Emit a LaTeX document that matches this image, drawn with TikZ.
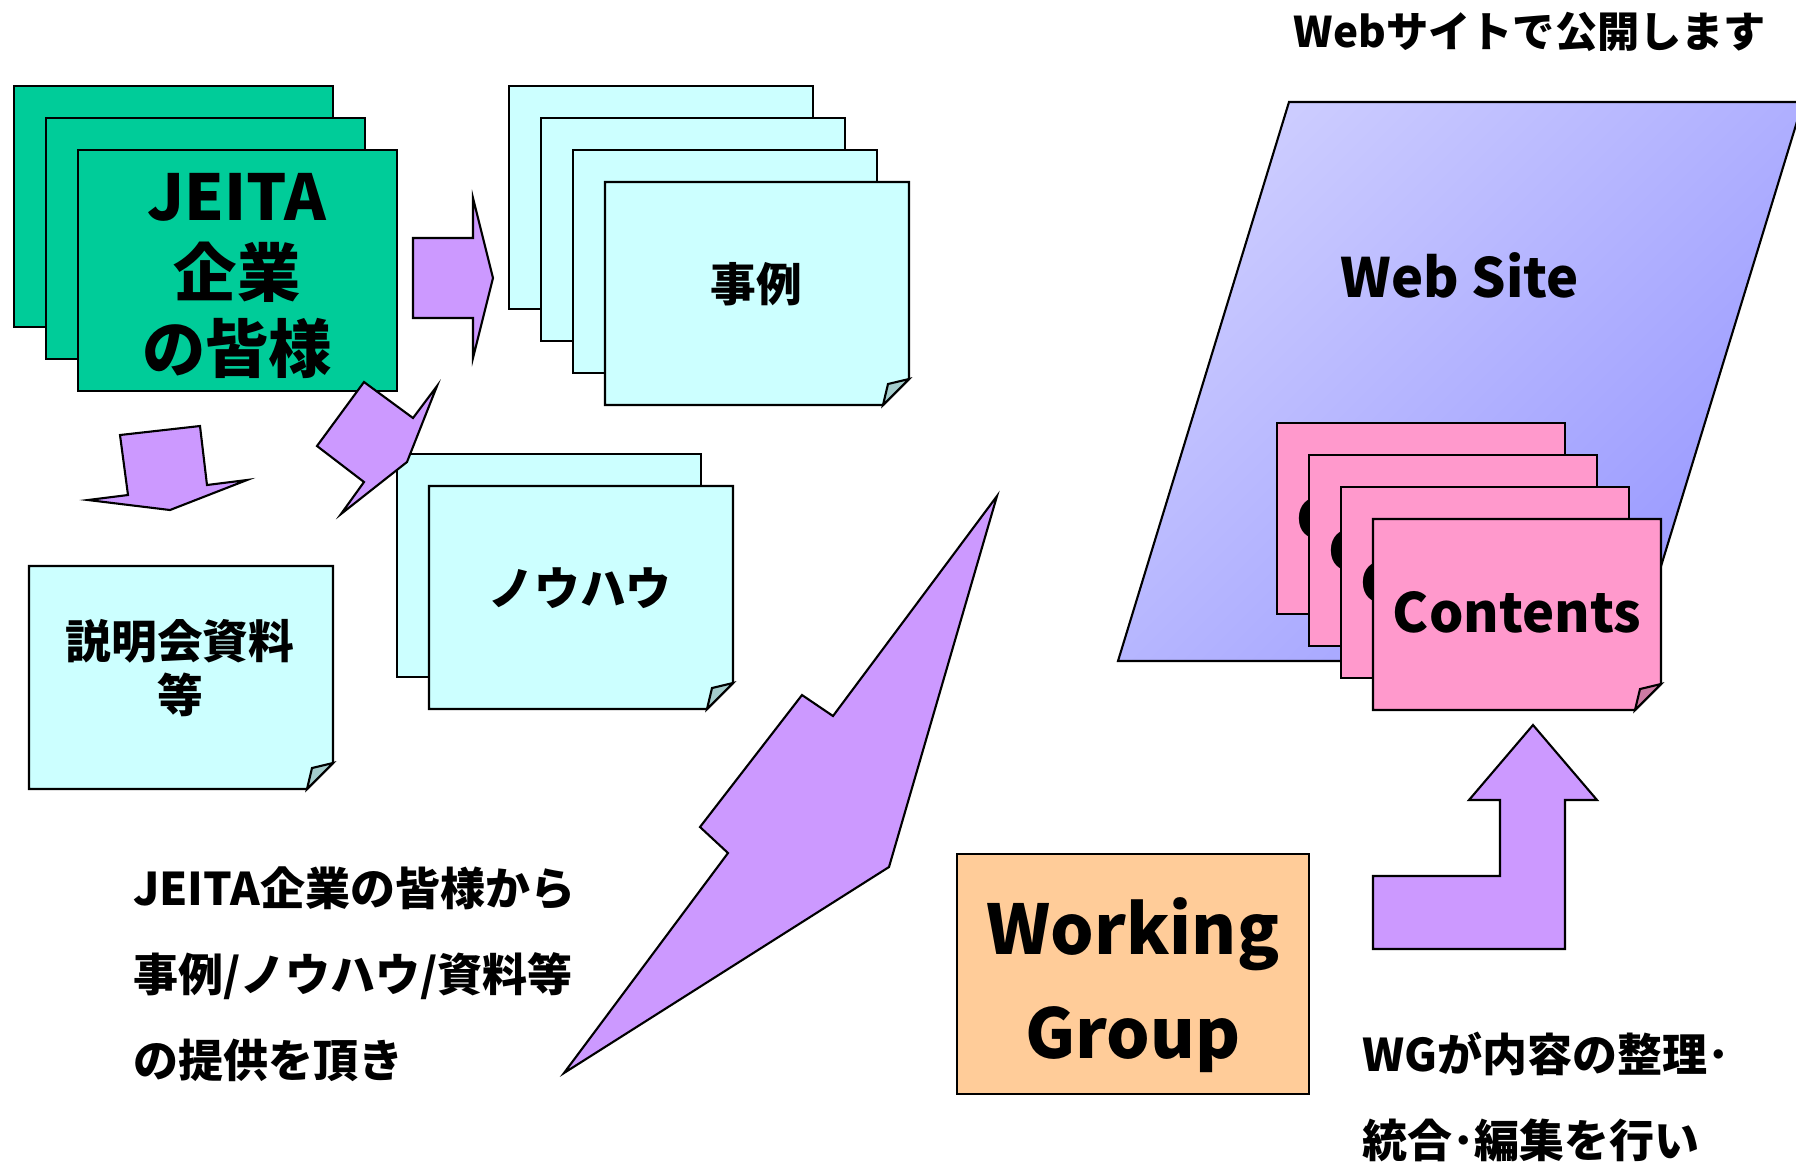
\documentclass[tikz,border=0pt]{standalone}
\usepackage{fontspec}
\setmainfont{Noto Sans CJK JP}
\definecolor{jeitagreen}{HTML}{00CC99}
\definecolor{sheetcyan}{HTML}{CCFFFF}
\definecolor{foldcyan}{HTML}{A3CCCC}
\definecolor{arrowpurple}{HTML}{CC99FF}
\definecolor{contentpink}{HTML}{FF99CC}
\definecolor{foldpink}{HTML}{CC7AA3}
\definecolor{wgorange}{HTML}{FFCC99}
\definecolor{sitelight}{HTML}{CCCCFF}
\definecolor{sitedark}{HTML}{9999FF}
% sheet with a turned-up corner: x, y, width, height, fill, fold fill
\newcommand{\foldsheet}[6]{%
  \draw[fill=#5] (#1,#2) -- ++(#3,0) -- ++(0,#4-26) -- ++(-26,26) -- ++(-#3+26,0) -- cycle;
  \draw[fill=#6] (#1+#3,#2+#4-26) -- ++(-21,5) -- ++(-5,21) -- cycle;
}
\begin{document}
\begin{tikzpicture}[x=0.01cm,y=-0.01cm,line width=0.6pt,
    bolt/.style={draw,fill=arrowpurple},
    big/.style={font=\bfseries\fontsize{18pt}{21.5pt}\selectfont},
    mid/.style={font=\bfseries\fontsize{13pt}{15.4pt}\selectfont},
    latin/.style={font=\bfseries\fontsize{15.4pt}{18pt}\selectfont},
    note/.style={font=\bfseries\fontsize{12.8pt}{24.4pt}\selectfont},
    every node/.style={align=center,inner sep=0}]
\path[use as bounding box,clip] (0,0) rectangle (1796,1162);

% Web site with its contents
\shade[draw,top color=sitelight,bottom color=sitedark,shading angle=45]
  (1289,102) -- (1803,102) -- (1632,661) -- (1118,661) -- cycle;
\node[latin] (site) at (1460,275) {Web Site};
\foreach \i in {0,1,2}{
  \draw[fill=contentpink] (1277+32*\i,423+32*\i) rectangle ++(288,191);
  \node[latin] (cont\i) at (1421+32*\i,518+32*\i) {Contents};
}
\foldsheet{1373}{519}{288}{191}{contentpink}{foldpink}
\node[latin] (cont3) at (1517,612) {Contents};
\node[note,font=\bfseries\fontsize{12pt}{14pt}\selectfont] (publish) at (1530,32) {Webサイトで公開します};

% JEITA members
\foreach \i in {0,1,2}{
  \draw[fill=jeitagreen] (14+32*\i,86+32*\i) rectangle ++(319,241);
}
\node[big] (members) at (237,276) {JEITA\\企業\\の皆様};

% cases
\foreach \i in {0,1,2}{
  \draw[fill=sheetcyan] (509+32*\i,86+32*\i) rectangle ++(304,223);
}
\foldsheet{605}{182}{304}{223}{sheetcyan}{foldcyan}
\node[mid] (cases) at (756,284) {事例};

% know-how
\draw[fill=sheetcyan] (397,454) rectangle ++(304,223);
\foldsheet{429}{486}{304}{223}{sheetcyan}{foldcyan}
\node[mid] (knowhow) at (580,588) {ノウハウ};

% documents
\foldsheet{29}{566}{304}{223}{sheetcyan}{foldcyan}
\node[mid] (docs) at (180,668) {説明会資料\\等};

% arrows
\draw[bolt] (413,238) -- (473,238) -- (473,198) -- (493,278) -- (473,358) -- (473,318) -- (413,318) -- cycle;
\draw[bolt] (120,435) -- (200,426) -- (207,485) -- (247,480) -- (170,510) -- (88,500) -- (128,495) -- cycle;
\draw[bolt] (364,382) -- (413,418) -- (437,386) -- (407,462) -- (341,514) -- (364,482) -- (317,446) -- cycle;
\draw[bolt] (997,496) -- (833,716) -- (802,695) -- (700,827) -- (728,853) -- (564,1073) -- (889,867) -- cycle;
\draw[bolt] (1533,725) -- (1597,800) -- (1565,800) -- (1565,949) -- (1373,949) -- (1373,876) -- (1500,876) -- (1500,800) -- (1469,800) -- cycle;

% working group
\draw[fill=wgorange] (957,854) rectangle (1309,1094);
\node[font=\bfseries\fontsize{19.5pt}{29.6pt}\selectfont] (wg) at (1133,985) {Working\\Group};

\node[note,anchor=west,align=left] (provide) at (132,974) {JEITA企業の皆様から\\事例/ノウハウ/資料等\\の提供を頂き};
\node[note,anchor=west,align=left] (edit) at (1361,1097) {WGが内容の整理･\\統合･編集を行い};
\end{tikzpicture}
\end{document}
